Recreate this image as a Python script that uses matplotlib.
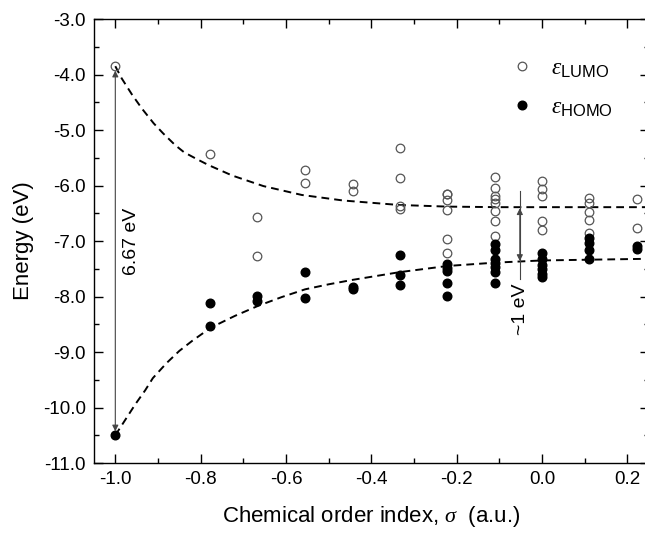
import matplotlib
matplotlib.use("Agg")
import matplotlib.pyplot as plt
from matplotlib.ticker import MultipleLocator, FormatStrFormatter

plt.rcParams['font.family'] = ['Liberation Sans', 'DejaVu Sans']
plt.rcParams['mathtext.fontset'] = 'custom'
plt.rcParams['mathtext.rm'] = 'Liberation Sans'
plt.rcParams['mathtext.sf'] = 'Liberation Sans'
plt.rcParams['mathtext.it'] = 'Liberation Serif:italic'

# data: chemical order index (sigma) and orbital energies (eV)
lumo_x = [-1.0,
          -0.778,
          -0.667, -0.667,
          -0.556, -0.556,
          -0.444, -0.444,
          -0.333, -0.333, -0.333, -0.333,
          -0.222, -0.222, -0.222, -0.222, -0.222, -0.222,
          -0.111, -0.111, -0.111, -0.111, -0.111, -0.111, -0.111, -0.111,
          0.0, 0.0, 0.0, 0.0, 0.0,
          0.111, 0.111, 0.111, 0.111, 0.111,
          0.222, 0.222]
lumo_y = [-3.85,
          -5.44,
          -6.57, -7.27,
          -5.72, -5.96,
          -5.97, -6.10,
          -5.33, -5.87, -6.37, -6.43,
          -6.15, -6.26, -6.45, -6.97, -7.21, -6.16,
          -5.84, -6.04, -6.19, -6.25, -6.31, -6.46, -6.64, -6.91,
          -5.92, -6.07, -6.19, -6.64, -6.81,
          -6.22, -6.31, -6.48, -6.62, -6.86,
          -6.24, -6.77]

homo_x = [-1.0,
          -0.778, -0.778,
          -0.667, -0.667,
          -0.556, -0.556,
          -0.444, -0.444,
          -0.333, -0.333, -0.333,
          -0.222, -0.222, -0.222, -0.222, -0.222,
          -0.111, -0.111, -0.111, -0.111, -0.111, -0.111, -0.111,
          0.0, 0.0, 0.0, 0.0, 0.0, 0.0,
          0.111, 0.111, 0.111, 0.111,
          0.222, 0.222]
homo_y = [-10.5,
          -8.12, -8.54,
          -7.99, -8.08,
          -7.56, -8.03,
          -7.82, -7.86,
          -7.25, -7.62, -7.80,
          -7.42, -7.48, -7.54, -7.75, -7.99,
          -7.06, -7.16, -7.33, -7.39, -7.46, -7.56, -7.76,
          -7.22, -7.33, -7.44, -7.51, -7.60, -7.64,
          -6.95, -7.03, -7.16, -7.33,
          -7.09, -7.15]

# guide curves
lumo_fit_x = [-1.0, -0.985, -0.961, -0.937, -0.91, -0.888, -0.86, -0.839,
              -0.81, -0.782, -0.726, -0.653, -0.563, -0.466, -0.336, -0.222,
              -0.1, 0.0, 0.25]
lumo_fit_y = [-3.85, -4.07, -4.36, -4.62, -4.88, -5.06, -5.27, -5.40,
              -5.52, -5.63, -5.82, -6.01, -6.17, -6.27, -6.35, -6.38,
              -6.39, -6.39, -6.39]
homo_fit_x = [-1.0, -0.953, -0.93, -0.912, -0.88, -0.85, -0.82, -0.776,
              -0.72, -0.666, -0.61, -0.555, -0.5, -0.444, -0.333, -0.222,
              -0.111, 0.0, 0.25]
homo_fit_y = [-10.5, -9.94, -9.69, -9.47, -9.20, -8.98, -8.80, -8.56,
              -8.35, -8.17, -8.01, -7.87, -7.78, -7.70, -7.56, -7.45,
              -7.39, -7.35, -7.32]

fig = plt.figure(figsize=(6.45, 5.33), dpi=100)
ax = fig.add_axes([0.1457, 0.1313, 0.860, 0.833])

ax.plot(lumo_fit_x, lumo_fit_y, ls=(0, (4, 2.6)), color='black', lw=1.4, zorder=2)
ax.plot(homo_fit_x, homo_fit_y, ls=(0, (4, 2.6)), color='black', lw=1.4, zorder=2)

ax.plot(lumo_x, lumo_y, 'o', ms=6.2, mfc='none', mec='#555555', mew=0.9,
        label=r'$\varepsilon_{\mathrm{LUMO}}$', zorder=3)
ax.plot(homo_x, homo_y, 'o', ms=6.2, mfc='black', mec='black',
        label=r'$\varepsilon_{\mathrm{HOMO}}$', zorder=3)

# 6.67 eV gap arrow
ax.annotate('', xy=(-1.0, -3.93), xytext=(-1.0, -10.43),
            arrowprops=dict(arrowstyle='<|-|>', color='#444444', lw=0.8,
                            mutation_scale=9, shrinkA=0, shrinkB=0))
ax.text(-0.961, -7.0, '6.67 eV', rotation=90, ha='center', va='center', fontsize=14)

# ~1 eV gap marker
ax.plot([-0.052, -0.052], [-6.10, -7.69], color='#444444', lw=0.8)
ax.annotate('', xy=(-0.052, -6.41), xytext=(-0.052, -7.36),
            arrowprops=dict(arrowstyle='<|-|>', color='#444444', lw=0.8,
                            mutation_scale=9, shrinkA=0, shrinkB=0))
ax.text(-0.050, -8.23, '~1 eV', rotation=90, ha='center', va='center', fontsize=14)

ax.set_xlim(-1.05, 0.25)
ax.set_ylim(-11.0, -3.0)
ax.xaxis.set_major_locator(MultipleLocator(0.2))
ax.xaxis.set_minor_locator(MultipleLocator(0.1))
ax.yaxis.set_major_locator(MultipleLocator(1.0))
ax.yaxis.set_minor_locator(MultipleLocator(0.5))
ax.xaxis.set_major_formatter(FormatStrFormatter('%.1f'))
ax.yaxis.set_major_formatter(FormatStrFormatter('%.1f'))
ax.tick_params(which='both', direction='in', top=True, right=True, width=1.0)
ax.tick_params(which='major', length=6.3, labelsize=13.5, pad=6)
ax.tick_params(which='minor', length=3.3)
for s in ax.spines.values():
    s.set_linewidth(1.0)

ax.set_xlabel(r'Chemical order index, $\sigma$  (a.u.)', fontsize=16, labelpad=11)
ax.set_ylabel('Energy (eV)', fontsize=16, labelpad=6)

ax.legend(loc='upper left', bbox_to_anchor=(0.70, 0.95), frameon=False,
          fontsize=17, handletextpad=0.2, labelspacing=0.7, borderpad=0.2)

fig.savefig('out.png', dpi=100)
